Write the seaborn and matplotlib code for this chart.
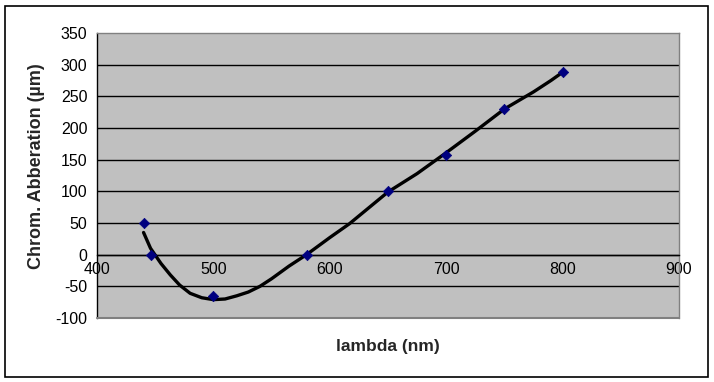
import matplotlib
matplotlib.use("Agg")
import matplotlib.pyplot as plt
import seaborn as sns
import pandas as pd
from matplotlib.patches import Rectangle

# measured points
lam = [440, 446, 500, 580, 650, 700, 750, 800]
aberration = [50, 0, -66, 0, 100, 158, 230, 288]

# smoothed trend curve
curve_lam = [440, 446, 455, 463, 471, 480, 490, 500, 510, 520, 530, 540, 550, 565, 580,
             600, 617, 650, 675, 700, 725, 750, 775, 790, 800]
curve_ab = [35, 10, -14, -32, -48, -61, -68, -71, -70, -65, -59, -50, -38, -18, 0,
            27, 49, 99, 128, 161, 195, 230, 257, 275, 288]

x_ticks = [400, 500, 600, 700, 800, 900]
y_ticks = [-100, -50, 0, 50, 100, 150, 200, 250, 300, 350]

sns.set_style("white")
plt.rcParams['font.family'] = ['Liberation Sans', 'DejaVu Sans']

fig = plt.figure(figsize=(7.14, 3.82), dpi=100)
ax = fig.add_axes([97/714, 1 - 318/382, (679 - 97)/714, (318 - 33)/382])
ax.set_facecolor('#C0C0C0')

pts = pd.DataFrame({'lam': lam, 'ab': aberration})
crv = pd.DataFrame({'lam': curve_lam, 'ab': curve_ab})

for yv in y_ticks[1:-1]:
    ax.axhline(yv, color='black', lw=1.0, zorder=1)

sns.lineplot(data=crv, x='lam', y='ab', ax=ax, color='black', lw=2.4,
             sort=True, estimator=None, zorder=3)
sns.scatterplot(data=pts, x='lam', y='ab', ax=ax, marker='D', color='#000080',
                s=28, edgecolor='#000080', linewidth=0.5, zorder=4)

for s in ['top', 'right']:
    ax.spines[s].set_color('#808080')
    ax.spines[s].set_linewidth(1)
ax.spines['left'].set_color('black')
ax.spines['left'].set_linewidth(1)
ax.spines['bottom'].set_position(('data', 0))
ax.spines['bottom'].set_color('black')
ax.spines['bottom'].set_linewidth(1)
# bottom border of plot area
ax.axhline(-100, color='#808080', lw=1.5, zorder=5, clip_on=False)

ax.set_xlim(400, 900)
ax.set_ylim(-100, 350)
ax.set_xticks(x_ticks)
ax.set_yticks(y_ticks)
ax.set_xticklabels([str(v) for v in x_ticks])
ax.set_yticklabels([str(v) for v in y_ticks])

ax.tick_params(axis='both', direction='out', length=4, width=1, color='black',
               labelcolor='black', pad=3, labelsize=11.5)
ax.tick_params(axis='x', pad=1)

ax.set_xlabel('')
ax.set_ylabel('')
fig.text(388/714, 1 - 346/382, 'lambda (nm)', ha='center', va='center',
         fontsize=12.5, fontweight='bold')
fig.text(37/714, 1 - 166/382, 'Chrom. Abberation (µm)', ha='center', va='center',
         rotation=90, fontsize=13, fontweight='bold')

fig.patches.append(Rectangle((5/714, 1 - 377/382), 703/714, 371/382,
                             transform=fig.transFigure, fill=False,
                             edgecolor='black', lw=1.2))

fig.savefig('out.png', dpi=100)
